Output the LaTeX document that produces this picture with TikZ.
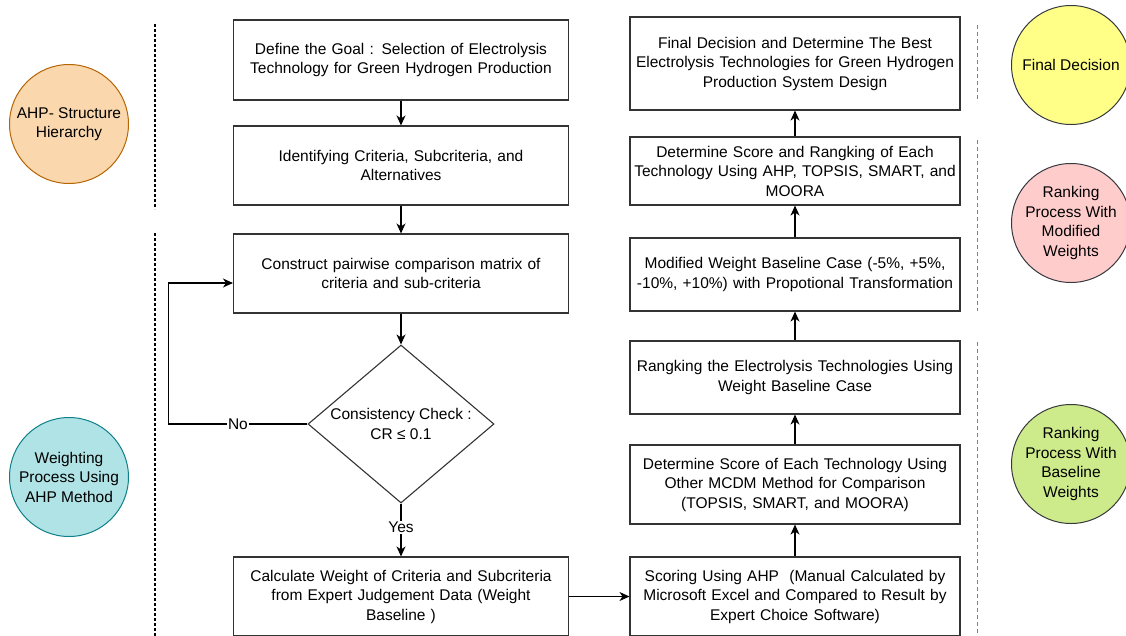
\documentclass[tikz,border=0pt]{standalone}
\usepackage{fontspec}
\setmainfont{Liberation Sans}
\usepackage{xcolor}
\usetikzlibrary{arrows.meta,positioning,shapes.geometric}
\definecolor{boxline}{HTML}{333333}
\definecolor{orfill}{HTML}{FAD7AC}
\definecolor{ordraw}{HTML}{B46504}
\definecolor{tlfill}{HTML}{B0E3E6}
\definecolor{tldraw}{HTML}{0E8088}
\definecolor{ylfill}{HTML}{FFFF88}
\definecolor{pkfill}{HTML}{FFCCCC}
\definecolor{grfill}{HTML}{CDEB8B}
\definecolor{circdraw}{HTML}{36393D}

\begin{document}
\begin{tikzpicture}[x=1pt, y=-1pt,
  every node/.style={font=\fontsize{15.5}{19.5}\selectfont},
  procL/.style={draw=boxline, line width=1.1pt, align=center, inner sep=2pt,
    text width=331pt, minimum height=#1},
  procR/.style={draw=boxline, line width=1.1pt, align=center, inner sep=2pt,
    text width=326pt, minimum height=#1},
  check/.style={draw=boxline, line width=1.1pt, diamond, aspect=1.18,
    inner sep=0pt, align=center, minimum width=186pt, minimum height=158pt},
  phase/.style={circle, line width=1pt, align=center, inner sep=0pt,
    minimum size=119pt},
  arr/.style={line width=1.1pt, -{Stealth[length=10pt,width=9pt,inset=3pt]}},
  edgetxt/.style={fill=white, inner sep=1pt}
]
\useasboundingbox (0,0) rectangle (1126,635);

% Phase circles
\node[phase, fill=orfill, draw=ordraw] (hier) at (69,124)
  {AHP- Structure\\Hierarchy};
\node[phase, fill=tlfill, draw=tldraw] (weighting) at (69,477)
  {Weighting\\Process Using\\AHP Method};
\node[phase, fill=ylfill, draw=circdraw] (decide) at (1071,65) {Final Decision};
\node[phase, fill=pkfill, draw=circdraw] (modrank) at (1071,223)
  {Ranking\\Process With\\Modified\\Weights};
\node[phase, fill=grfill, draw=circdraw] (baserank) at (1071,464)
  {Ranking\\Process With\\Baseline\\Weights};

% Dividers
\draw[line width=1.2pt, dash pattern=on 3pt off 2pt] (155,24) -- (155,209);
\draw[line width=1.2pt, dash pattern=on 3pt off 2pt] (155,233) -- (155,640);
\draw[gray, line width=0.8pt, dash pattern=on 4pt off 3pt] (977,25) -- (977,101);
\draw[gray, line width=0.8pt, dash pattern=on 4pt off 3pt] (977,140) -- (977,311);
\draw[gray, line width=0.8pt, dash pattern=on 4pt off 3pt] (977,342) -- (977,640);

% Left column
\node[procL=80pt] (goal) at (401,60)
  {Define the Goal : Selection of Electrolysis\\Technology for Green Hydrogen Production};
\node[procL=79pt] (ident) at (401,165.5)
  {Identifying Criteria, Subcriteria, and\\Alternatives};
\node[procL=79pt] (pairwise) at (401,273.5)
  {Construct pairwise comparison matrix of\\criteria and sub-criteria};
\node[check] (consist) at (401,424) {Consistency Check :\\CR ≤ 0.1};
\node[procL=79pt] (weight) at (401,596.5)
  {Calculate Weight of Criteria and Subcriteria\\from Expert Judgement Data (Weight\\Baseline )};

% Right column
\node[procR=79pt] (scoring) at (795,596.5)
  {Scoring Using AHP~ (Manual Calculated by\\Microsoft Excel and Compared to Result by\\Expert Choice Software)};
\node[procR=79pt] (other) at (795,484.5)
  {Determine Score of Each Technology Using\\Other MCDM Method for Comparison\\(TOPSIS, SMART, and MOORA)};
\node[procR=73pt] (rank) at (795,377.5)
  {Rangking the Electrolysis Technologies Using\\Weight Baseline Case};
\node[procR=73pt] (modified) at (795,274.5)
  {Modified Weight Baseline Case (-5\%, +5\%,\\-10\%, +10\%) with Propotional Transformation};
\node[procR=68pt] (detscore) at (795,171)
  {Determine Score and Rangking of Each\\Technology Using AHP, TOPSIS, SMART, and\\MOORA};
\node[procR=93pt] (final) at (795,63.5)
  {Final Decision and Determine The Best\\Electrolysis Technologies for Green Hydrogen\\Production System Design};

% Flow
\draw[arr] (goal) -- (ident);
\draw[arr] (ident) -- (pairwise);
\draw[arr] (pairwise) -- (consist);
\draw[arr] (consist) -- node[edgetxt, pos=0.45] {Yes} (weight);
\draw[arr] (consist.west) -- node[edgetxt] {No} ++(-139,0)
  |- ([yshift=-9.5pt]pairwise.west);
\draw[arr] (weight) -- (scoring);
\draw[arr] (scoring) -- (other);
\draw[arr] (other) -- (rank);
\draw[arr] (rank) -- (modified);
\draw[arr] (modified) -- (detscore);
\draw[arr] (detscore) -- (final);

\end{tikzpicture}
\end{document}
